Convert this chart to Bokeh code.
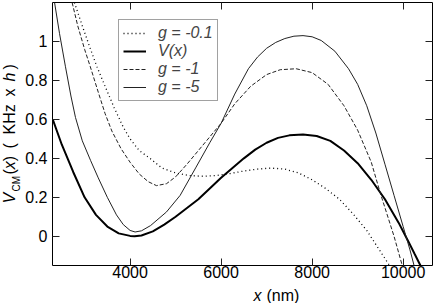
from bokeh.plotting import figure
from bokeh.models import Range1d, LinearAxis, Label, Legend, LegendItem, FixedTicker
from bokeh.layouts import row, column
from bokeh.embed import file_html
from bokeh.resources import INLINE
import math

# ---- data ----
x_v = [2300, 2500, 2750, 3000, 3250, 3500, 3750, 4000, 4100, 4250, 4500, 4750, 5000, 5250,
       5500, 5750, 6000, 6250, 6500, 6750, 7000, 7250, 7500, 7800, 8100, 8400, 8700, 9000,
       9300, 9600, 9900, 10100, 10250, 10380]
y_v = [0.60, 0.47, 0.33, 0.20, 0.11, 0.05, 0.015, 0.002, 0.0, 0.004, 0.025, 0.06, 0.10, 0.145,
       0.19, 0.245, 0.30, 0.35, 0.40, 0.445, 0.48, 0.505, 0.518, 0.522, 0.515, 0.49, 0.44, 0.375,
       0.29, 0.19, 0.07, -0.02, -0.09, -0.15]

x_g5 = [2340, 2450, 2580, 2700, 2800, 2950, 3130, 3300, 3500, 3700, 3850, 4000, 4110, 4250,
        4450, 4800, 5100, 5450, 5750, 6000, 6300, 6600, 6800, 7000, 7200, 7400, 7600, 7800,
        8000, 8200, 8500, 8800, 9000, 9200, 9400, 9600, 9800, 10000, 10150, 10240]
y_g5 = [1.20, 1.04, 0.87, 0.72, 0.61, 0.49, 0.39, 0.30, 0.20, 0.11, 0.06, 0.03, 0.022, 0.028,
        0.055, 0.125, 0.21, 0.355, 0.48, 0.58, 0.73, 0.86, 0.92, 0.965, 0.995, 1.015, 1.027, 1.03,
        1.024, 1.005, 0.95, 0.86, 0.78, 0.67, 0.53, 0.37, 0.21, 0.05, -0.07, -0.15]

x_g1 = [2726, 2850, 3000, 3126, 3300, 3450, 3600, 3800, 4000, 4200, 4400, 4580, 4800, 5000,
        5250, 5500, 5750, 6000, 6300, 6650, 7000, 7300, 7650, 8000, 8350, 8700, 9000, 9300,
        9500, 9650, 9800, 9980]
y_g1 = [1.20, 1.08, 0.96, 0.87, 0.74, 0.63, 0.54, 0.45, 0.38, 0.32, 0.28, 0.26, 0.27, 0.305,
        0.37, 0.44, 0.51, 0.58, 0.68, 0.77, 0.83, 0.855, 0.86, 0.84, 0.78, 0.67, 0.545, 0.38,
        0.22, 0.11, 0.0, -0.15]

x_g01 = [2776, 2950, 3100, 3272, 3450, 3650, 3850, 4000, 4200, 4437, 4700, 5000, 5300, 5600,
         5900, 6200, 6500, 6800, 7100, 7400, 7700, 8000, 8300, 8600, 8900, 9200, 9450, 9700]
y_g01 = [1.20, 1.08, 0.98, 0.87, 0.77, 0.66, 0.56, 0.50, 0.44, 0.40, 0.35, 0.325, 0.312, 0.308,
         0.312, 0.322, 0.335, 0.345, 0.35, 0.345, 0.325, 0.29, 0.245, 0.19, 0.115, 0.03, -0.06, -0.15]

x_ticks = [4000, 6000, 8000, 10000]
y_ticks = [0, 0.2, 0.4, 0.6, 0.8, 1]
y_tick_labels = ["0", "0.2", "0.4", "0.6", "0.8", "1"]

legend_labels = ["g = -0.1", "V(x)", "g = -1", "g = -5"]

FONT = "Liberation Sans"
LEFT_W = 22           # strip holding the y-axis title
MAIN_W, MAIN_H = 414, 283
BOT_H = 303 - MAIN_H  # strip holding the x-axis title

# ---------------- main plot ----------------
p = figure(width=MAIN_W, height=MAIN_H,
           x_range=Range1d(2295, 10645), y_range=Range1d(-0.15, 1.2),
           output_backend="svg", toolbar_location=None,
           min_border_left=28, min_border_right=4, min_border_top=2, min_border_bottom=18,
           x_axis_location=None, y_axis_location=None)
p.grid.visible = False
p.outline_line_color = "black"
p.outline_line_width = 1
p.background_fill_color = "white"
p.border_fill_color = "white"


def style_axis(ax, labels=True):
    ax.axis_line_color = None
    ax.major_tick_in = 7
    ax.major_tick_out = 0
    ax.major_tick_line_color = "#222222"
    ax.minor_tick_line_color = None
    ax.major_label_text_font = FONT
    ax.major_label_text_color = "black"
    if labels:
        ax.major_label_text_font_size = "16px"
    else:
        ax.major_label_text_font_size = "1px"
        ax.major_label_text_color = None
        ax.major_label_standoff = 0


bx = LinearAxis(ticker=FixedTicker(ticks=x_ticks))
style_axis(bx)
bx.major_label_standoff = 0
tx = LinearAxis(ticker=FixedTicker(ticks=x_ticks))
style_axis(tx, labels=False)
ly = LinearAxis(ticker=FixedTicker(ticks=y_ticks),
                major_label_overrides={t: s for t, s in zip(y_ticks, y_tick_labels)})
style_axis(ly)
ly.major_label_standoff = 5
ry = LinearAxis(ticker=FixedTicker(ticks=y_ticks))
style_axis(ry, labels=False)
p.add_layout(bx, "below")
p.add_layout(tx, "above")
p.add_layout(ly, "left")
p.add_layout(ry, "right")

r_dot = p.line(x_g01, y_g01, line_color="black", line_width=1.3, line_dash="1 3")
r_v = p.line(x_v, y_v, line_color="black", line_width=2)
r_g1 = p.line(x_g1, y_g1, line_color="#222222", line_width=1, line_dash="4 2")
r_g5 = p.line(x_g5, y_g5, line_color="#222222", line_width=1)

legend = Legend(items=[LegendItem(label=lab, renderers=[r])
                       for lab, r in zip(legend_labels, [r_dot, r_v, r_g1, r_g5])],
                location=(66, 164), orientation="vertical",
                border_line_color="#444444", border_line_width=1,
                background_fill_color="white", background_fill_alpha=1,
                label_text_font=FONT, label_text_font_style="italic",
                label_text_font_size="16px",
                glyph_width=23, glyph_height=18, label_height=18,
                label_standoff=12, padding=4, spacing=0, margin=0)
p.add_layout(legend)


def strip(w, h):
    s = figure(width=w, height=h, x_range=Range1d(0, 1), y_range=Range1d(0, 1),
               output_backend="svg", toolbar_location=None, min_border=0,
               x_axis_location=None, y_axis_location=None)
    s.grid.visible = False
    s.outline_line_color = None
    s.background_fill_color = "white"
    s.border_fill_color = "white"
    return s


def piece(fig, text, sx, sy, size="16px", style="normal", angle=0.0, baseline="middle"):
    fig.add_layout(Label(x=sx, y=sy, x_units="screen", y_units="screen",
                         text=text, angle=angle, text_align="left", text_baseline=baseline,
                         text_font=FONT, text_font_size=size, text_font_style=style,
                         text_color="black"))


# ---------------- y-axis title strip ----------------
ys = strip(LEFT_W, 303)
A = math.pi / 2


def ypiece(text, px, py, **kw):
    piece(ys, text, px, 303 - py, angle=A, **kw)


ypiece("V", 9, 203, style="italic")
ypiece("CM", 16.2, 191, size="10px")
ypiece("(", 9, 174)
ypiece("x", 9, 168.7, style="italic")
ypiece(")", 9, 160.7)
ypiece("(", 9, 148)
ypiece("KHz", 9, 134)
ypiece("x", 9, 96)
ypiece("h", 9, 81, style="italic")
ypiece(")", 9, 69)

# ---------------- x-axis title strip ----------------
xs = strip(MAIN_W, BOT_H)
piece(xs, "x", 223 - LEFT_W, 303 - 294.5, style="italic", baseline="alphabetic")
piece(xs, "(nm)", 236 - LEFT_W, 303 - 294.5, baseline="alphabetic")

layout = row(ys, column(p, xs, spacing=0), spacing=0)

open("out.html", "w").write(file_html(layout, INLINE))
